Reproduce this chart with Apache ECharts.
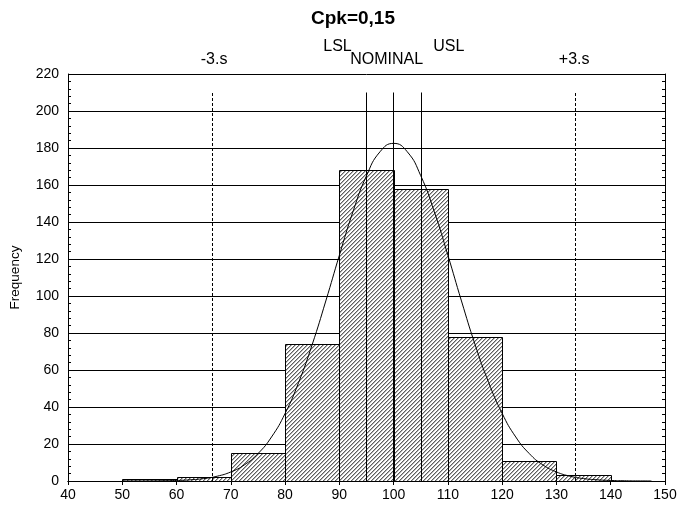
<!DOCTYPE html>
<html><head><meta charset="utf-8">
<script src="https://cdn.jsdelivr.net/npm/echarts@6/dist/echarts.min.js"></script>
<style>html,body{margin:0;padding:0;background:#fff}#c{width:680px;height:506px}</style>
</head><body><div id="c"></div>
<script>
// Histogram bins (start of each 10-wide class) and frequencies
const binStarts = [50, 60, 70, 80, 90, 100, 110, 120, 130];
const binWidth = 10;
const counts = [1, 2, 15, 74, 168, 158, 78, 11, 3];
// fitted normal curve
const curveX = [50,52.5,55,57.5,60,62.5,65,67.5,70,72.5,75,77.5,80,82.5,85,87.5,90,92.5,95,97.5,100,102.5,105,107.5,110,112.5,115,117.5,120,122.5,125,127.5,130,132.5,135,137.5,140,142.5,145,147.5];
const curveY = [0.02,0.02,0.05,0.13,0.29,0.64,1.3,2.6,4.9,8.7,14.8,23.8,36.5,53.3,73.8,97.3,122,145.5,165,178,182.5,178,165,145.5,122,97.3,73.8,53.3,36.5,23.8,14.8,8.7,4.9,2.6,1.3,0.64,0.29,0.13,0.05,0.02];
// specification lines
const specNames = ['-3.s', 'LSL', 'NOMINAL', 'USL', '+3.s'];
const specValues = [66.55, 95, 100, 105, 133.45];
const specTop = 210;
const xTicks = [40,50,60,70,80,90,100,110,120,130,140,150];
const yTicks = [0,20,40,60,80,100,120,140,160,180,200,220];
const titleText = 'Cpk=0,15';
const yName = 'Frequency';

// hatch pattern
const pc = document.createElement('canvas');
pc.width = 4; pc.height = 4;
const pctx = pc.getContext('2d');
pctx.fillStyle = '#ffffff'; pctx.fillRect(0,0,4,4);
for (let i = 0; i < 4; i++) {
  pctx.fillStyle = '#5e5e5e';
  pctx.fillRect(3 - i, i, 1, 1);
  pctx.fillStyle = '#b4b4b4';
  pctx.fillRect((4 - i) % 4, i, 1, 1);
}
const hatch = {image: pc, repeat: 'repeat'};

const barData = binStarts.map((s, i) => [s, s + binWidth, counts[i]]);
const curveData = curveX.map((x, i) => [x, curveY[i]]);

const FONT = 'Liberation Sans, Arial, sans-serif';
const chart = echarts.init(document.getElementById('c'), null, {renderer: 'canvas'});

const labelOffsets = {
  '-3.s': [2, -21], 'LSL': [-29, -34], 'NOMINAL': [-7, -21], 'USL': [28, -34], '+3.s': [-1, -21]
};
const dashed = {'-3.s': true, '+3.s': true};
const markData = specNames.map((n, i) => [
  {coord: [specValues[i], 0], name: n,
   lineStyle: dashed[n] ? {type: [3, 2], color: '#000', width: 1} : {type: 'solid', color: '#000', width: 1},
   label: {show: true, position: 'end', distance: 4, formatter: n, offset: labelOffsets[n], color: '#000', fontFamily: FONT, fontSize: 16}},
  {coord: [specValues[i], specTop]}
]);

chart.setOption({
  animation: false,
  backgroundColor: '#fff',
  title: {text: titleText, left: 348, top: 4, textAlign: 'center',
    textStyle: {fontFamily: FONT, fontSize: 19, fontWeight: 'bold', color: '#000'}},
  grid: {left: 67, right: 15, top: 74, bottom: 25},
  xAxis: [
    {type: 'value', position: 'bottom', min: xTicks[0], max: xTicks[xTicks.length-1], interval: 10,
     axisLine: {show: true, lineStyle: {color: '#000', width: 1}},
     axisTick: {show: false},
     axisLabel: {color: '#000', fontFamily: FONT, fontSize: 14, margin: 7},
     splitLine: {show: false}},
    {type: 'value', position: 'top', min: xTicks[0], max: xTicks[xTicks.length-1], interval: 10,
     axisLine: {show: true, lineStyle: {color: '#000', width: 1}},
     axisTick: {show: true, inside: true, length: 4, lineStyle: {color: '#000'}},
     axisLabel: {show: false}, splitLine: {show: false}}
  ],
  yAxis: [
    {type: 'value', position: 'left', min: yTicks[0], max: yTicks[yTicks.length-1], interval: 20,
     name: yName, nameLocation: 'middle', nameGap: 46,
     nameTextStyle: {color: '#000', fontFamily: FONT, fontSize: 13.5},
     axisLine: {show: true, lineStyle: {color: '#000', width: 1}},
     axisTick: {show: true, inside: true, length: 4, lineStyle: {color: '#000'}},
     minorTick: {show: true, splitNumber: 5, length: 3, lineStyle: {color: '#000'}},
     axisLabel: {color: '#000', fontFamily: FONT, fontSize: 14, margin: 9},
     splitLine: {show: true, lineStyle: {color: '#000', width: 1}}},
    {type: 'value', position: 'right', min: yTicks[0], max: yTicks[yTicks.length-1], interval: 20,
     axisLine: {show: true, lineStyle: {color: '#000', width: 1}},
     axisTick: {show: true, inside: true, length: 4, lineStyle: {color: '#000'}},
     minorTick: {show: true, splitNumber: 5, length: 3, lineStyle: {color: '#000'}},
     axisLabel: {show: false}, splitLine: {show: false}}
  ],
  series: [
    {type: 'custom', xAxisIndex: 0, yAxisIndex: 0, z: 2,
     renderItem: function (params, api) {
       const x0 = api.value(0), x1 = api.value(1), v = api.value(2);
       const p0 = api.coord([x0, v]);
       const p1 = api.coord([x1, 0]);
       return {type: 'rect',
         shape: {x: Math.round(p0[0]) + 0.5, y: Math.round(p0[1]) + 0.5, width: Math.round(p1[0]) - Math.round(p0[0]), height: Math.round(p1[1]) - Math.round(p0[1])},
         style: {fill: hatch, stroke: '#000', lineWidth: 1}};
     },
     encode: {x: [0, 1], y: 2},
     data: barData},
    {type: 'line', xAxisIndex: 0, yAxisIndex: 0, z: 4, smooth: true, showSymbol: false, symbol: 'none',
     lineStyle: {color: '#000', width: 1}, data: curveData,
     markLine: {silent: true, symbol: ['none', 'none'], precision: 2, data: markData}}
  ]
});
</script></body></html>
